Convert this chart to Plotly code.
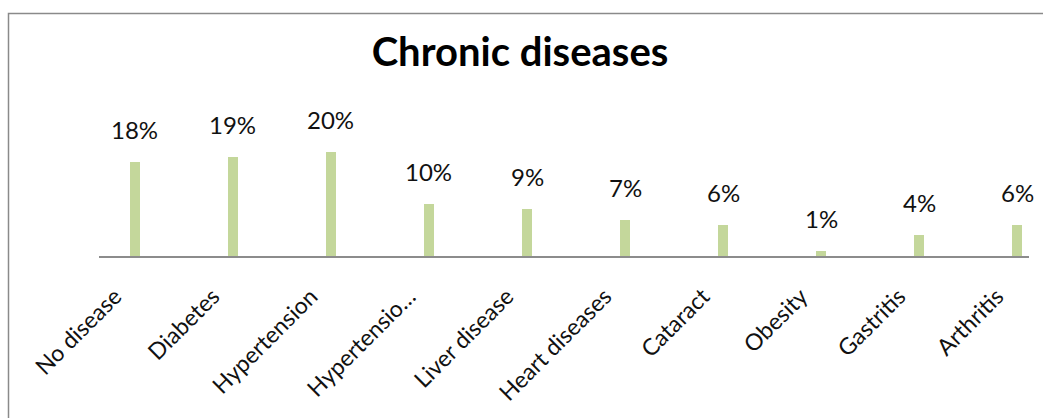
import plotly.graph_objects as go

categories = ["No disease", "Diabetes", "Hypertension", "Hypertensio…", "Liver disease",
              "Heart diseases", "Cataract", "Obesity", "Gastritis", "Arthritis"]
values = [18, 19, 20, 10, 9, 7, 6, 1, 4, 6]
value_labels = [f"{v}%" for v in values]
title_text = "Chronic diseases"

FONT = "Lato"
BAR_COLOR = "#C4D79B"

fig = go.Figure()
fig.add_trace(go.Bar(
    x=categories, y=values, width=0.1,
    marker=dict(color=BAR_COLOR, line=dict(width=0)),
    hoverinfo="x+y",
))

for c, v, t in zip(categories, values, value_labels):
    fig.add_annotation(x=c, y=v, text=t, showarrow=False, yanchor="bottom",
                       yshift=16, font=dict(family=FONT, size=24, color="#111111"))

W, H = 1043, 418
L, R, T, B = 99, 14, 100, 162
pw, ph = W - L - R, H - T - B

def px_to_paper_x(px):
    return (px - L) / pw

def px_to_paper_y(py):
    return (H - B - py) / ph

fig.add_shape(type="rect", xref="paper", yref="paper",
              x0=px_to_paper_x(8.5), x1=px_to_paper_x(1060),
              y0=px_to_paper_y(440), y1=px_to_paper_y(13.5),
              line=dict(color="#8a8a8a", width=1.5), fillcolor="rgba(0,0,0,0)", layer="below")

fig.update_layout(
    width=W, height=H, autosize=False,
    margin=dict(l=L, r=R, t=T, b=B, pad=0),
    paper_bgcolor="white", plot_bgcolor="white",
    showlegend=False,
    title=dict(text=f"<b>{title_text}</b>", xref="container", x=520 / W,
               xanchor="center", yref="container", y=1 - 52 / H, yanchor="middle",
               font=dict(family=FONT, size=40, color="#000000")),
    xaxis=dict(range=[-0.367, 9.122], showline=True, linecolor="#8c8c8c", linewidth=2,
               ticks="", tickangle=-45, showgrid=False, zeroline=False,
               ticklabelstandoff=16, ticklabelshift=-20,
               tickfont=dict(family=FONT, size=23, color="#111111")),
    yaxis=dict(range=[0, 30], visible=False, showgrid=False, zeroline=False),
    bargap=0,
)

fig.write_html("out.html")
